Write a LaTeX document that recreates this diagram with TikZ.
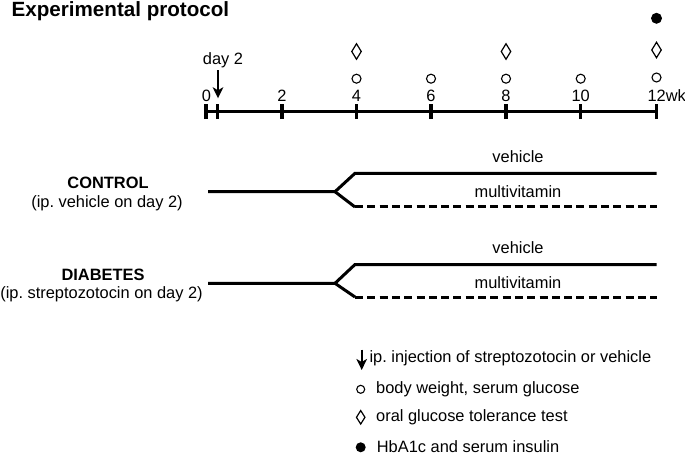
\documentclass[tikz,border=0pt]{standalone}
\usepackage{fontspec}
\setmainfont{Liberation Sans}
\usetikzlibrary{arrows.meta,shapes.geometric}
\frenchspacing
\begin{document}
\begin{tikzpicture}[x=1pt,y=-1pt,
  lbl/.style={font=\fontsize{16.4}{19}\selectfont, inner sep=0pt, anchor=base},
  blbl/.style={font=\fontsize{16.4}{19}\selectfont\bfseries, inner sep=0pt, anchor=base},
  axisline/.style={line width=3.3pt},
  tickmark/.style={line width=3.3pt},
  branch/.style={line width=3pt},
  dashbranch/.style={line width=3pt, dash pattern=on 8pt off 4.3pt},
  opencirc/.style={circle, draw, line width=1.1pt, minimum size=9pt, inner sep=0pt},
  fillcirc/.style={circle, fill, minimum size=11pt, inner sep=0pt},
  diam/.style={diamond, draw, line width=1.2pt, minimum width=10pt, minimum height=16pt, inner sep=0pt},
  injarrow/.style={line width=2.4pt, -{Stealth[length=11pt,width=10.5pt,inset=3pt]}}
]
\useasboundingbox (0,0) rectangle (685,457);

% title
\node[font=\fontsize{20.6}{24}\selectfont\bfseries, inner sep=0pt, anchor=base west] (title) at (11.5,16.7) {Experimental protocol};

% timeline
\coordinate (t0) at (206,111.7);
\coordinate (td) at (217.8,111.7);
\coordinate (t2) at (282,111.7);
\coordinate (t4) at (356.5,111.7);
\coordinate (t6) at (431,111.7);
\coordinate (t8) at (506,111.7);
\coordinate (t10) at (580.7,111.7);
\coordinate (t12) at (656.5,111.7);
\draw[axisline] (t0) -- (t12);
\foreach \t in {t0,td,t2,t4,t6,t8,t10,t12}
  \draw[tickmark] ([yshift=-7.5pt]\t) -- ([yshift=7.5pt]\t);

\node[lbl] (n0) at (206.5,101.7) {0};
\node[lbl] (n2) at (282,101.7) {2};
\node[lbl] (n4) at (356.5,101.7) {4};
\node[lbl] (n6) at (431,101.7) {6};
\node[lbl] (n8) at (506,101.7) {8};
\node[lbl] (n10) at (580.7,101.7) {10};
\node[lbl, anchor=base west] (n12) at (647.4,101.7) {12wk};

% day 2 arrow
\node[lbl, anchor=base west] (day) at (202.7,65) {day 2};
\coordinate (dayA) at (218,70.5);
\coordinate (dayB) at (218,98.3);
\draw[injarrow] (dayA) -- (dayB);

% markers on timeline
\node[opencirc] (c4) at (356.5,78.7) {};
\node[opencirc] (c6) at (431,78.7) {};
\node[opencirc] (c8) at (506,78.7) {};
\node[opencirc] (c10) at (580.7,78.7) {};
\node[opencirc] (c12) at (656.5,77.5) {};
\node[diam] (d4) at (356.5,51.5) {};
\node[diam] (d8) at (506,51.5) {};
\node[diam] (d12) at (656.5,50) {};
\node[fillcirc] (f12) at (656.5,18.3) {};

% CONTROL group
\node[blbl] (ctl) at (108,189) {CONTROL};
\node[lbl] (ctlsub) at (107,207.7) {(ip. vehicle on day 2)};
\coordinate (cs) at (208,191.7);
\coordinate (cb) at (335,191.7);
\coordinate (cv) at (355,173.3);
\coordinate (cve) at (656.7,173.3);
\coordinate (cm) at (355,207);
\coordinate (cme) at (656.7,207);
\draw[branch] (cs) -- (cb) -- (cv) -- (cve);
\draw[branch] (cb) -- (cm);
\draw[dashbranch] (cm) -- (cme);
\node[lbl] (cvl) at (518,162.7) {vehicle};
\node[lbl] (cml) at (518,197.3) {multivitamin};

% DIABETES group
\node[blbl] (dia) at (103,280.3) {DIABETES};
\node[lbl] (diasub) at (101.5,298) {(ip. streptozotocin on day 2)};
\coordinate (ds) at (208,283.3);
\coordinate (db) at (335,283.3);
\coordinate (dv) at (355,264.5);
\coordinate (dve) at (656.7,264.5);
\coordinate (dm) at (355,297);
\coordinate (dme) at (656.7,297);
\draw[branch] (ds) -- (db) -- (dv) -- (dve);
\draw[branch] (db) -- (dm);
\draw[dashbranch] (dm) -- (dme);
\node[lbl] (dvl) at (518,253.3) {vehicle};
\node[lbl] (dml) at (518,288.3) {multivitamin};

% legend
\coordinate (lA) at (361.7,349.5);
\coordinate (lB) at (361.7,370);
\draw[injarrow] (lA) -- (lB);
\node[lbl, anchor=base west] (leg1) at (369.3,362.3) {ip. injection of streptozotocin or vehicle};
\node[opencirc, minimum size=8pt] (lc) at (360.7,389.3) {};
\node[lbl, anchor=base west] (leg2) at (376,393.8) {body weight, serum glucose};
\node[diam, minimum height=14pt, minimum width=9pt] (ld) at (360.7,417.3) {};
\node[lbl, anchor=base west] (leg3) at (376,421.5) {oral glucose tolerance test};
\node[fillcirc, minimum size=10pt] (lf) at (360.7,447.3) {};
\node[lbl, anchor=base west] (leg4) at (376.7,452) {HbA1c and serum insulin};
\end{tikzpicture}
\end{document}
